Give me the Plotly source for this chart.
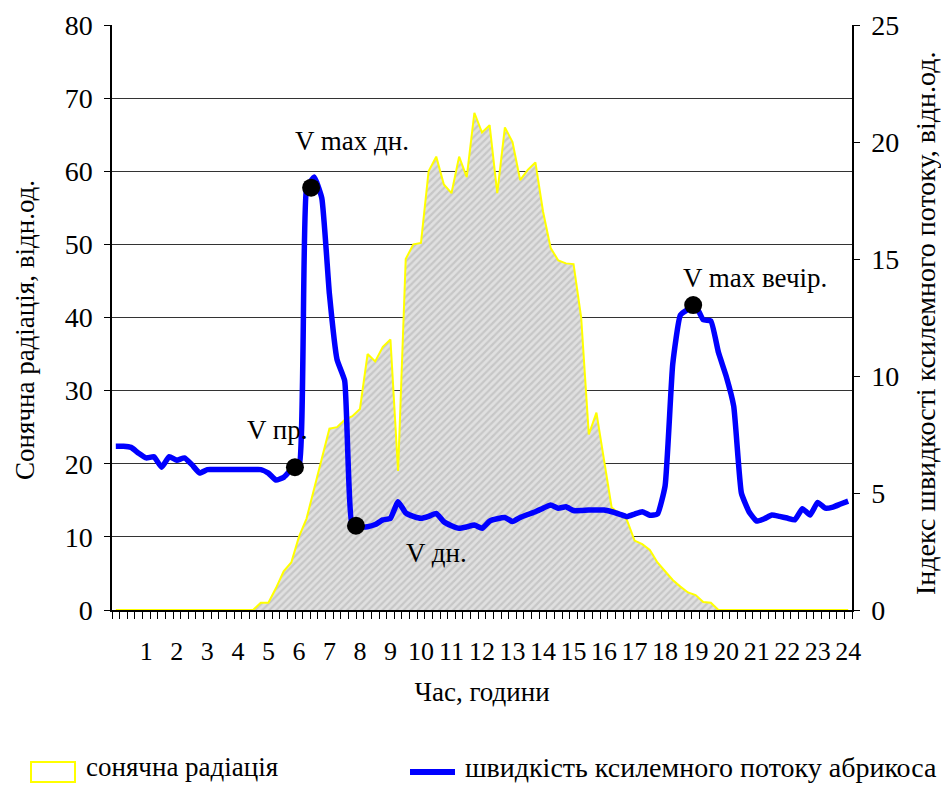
import plotly.graph_objects as go

# time axis: every 15 minutes, hours 0..24
hours = [i * 0.25 for i in range(97)]

# solar radiation (left axis, rel. units)
radiation = (
    [0] * 19 +                                   # 0:00 .. 4:30
    [1, 1, 3, 5.3, 6.5,                         # 4:45 .. 5:45
     10, 12.5, 16.5, 20.5,                      # 6:00 .. 6:45
     24.8, 25, 26, 26.5,                        # 7:00 .. 7:45
     27.5, 35, 34, 36,                          # 8:00 .. 8:45
     37, 19, 48, 50,                            # 9:00 .. 9:45
     50.2, 60, 62, 58.2,                        # 10:00 .. 10:45
     57, 62, 59.2, 68,                          # 11:00 .. 11:45
     65.3, 66.3, 57, 66,                        # 12:00 .. 12:45
     64, 58.8, 60.2, 61.2,                      # 13:00 .. 13:45
     54.5, 49.5, 47.8, 47.4,                    # 14:00 .. 14:45
     47.3, 40, 24, 27,                          # 15:00 .. 15:45
     20.6, 14, 13.2, 12.3,                      # 16:00 .. 16:45
     9.5, 9, 8.2, 6.5,                          # 17:00 .. 17:45
     5.3, 4.1, 3.2, 2.4,                        # 18:00 .. 18:45
     2.05, 1.1, 1.0, 0] +                       # 19:00 .. 19:45
    [0] * 17                                    # 20:00 .. 24:00
)

# xylem sap-flow index of apricot (right axis, rel. units)
sap_flow = [
    7.0, 7.0, 6.95, 6.7,        # 0
    6.5, 6.55, 6.1, 6.55,       # 1
    6.4, 6.5, 6.2, 5.85,        # 2
    6.0, 6.0, 6.0, 6.0,         # 3
    6.0, 6.0, 6.0, 6.0,         # 4
    5.85, 5.55, 5.67, 6.0,      # 5
    6.1, 18.0, 18.5, 17.6,      # 6
    13.5, 10.7, 9.8, 3.6,       # 7
    3.55, 3.56, 3.65, 3.85,     # 8
    3.92, 4.63, 4.15, 4.0,      # 9
    3.92, 4.0, 4.13, 3.77,      # 10
    3.6, 3.49, 3.55, 3.63,      # 11
    3.49, 3.8, 3.9, 3.95,       # 12
    3.78, 3.95, 4.08, 4.2,      # 13
    4.35, 4.49, 4.35, 4.41,     # 14
    4.25, 4.25, 4.27, 4.27,     # 15
    4.27, 4.2, 4.1, 3.99,       # 16
    4.1, 4.2, 4.05, 4.1,        # 17
    5.3, 10.5, 12.6, 12.85,     # 18
    13.0, 12.4, 12.35, 11.0,    # 19
    10.0, 8.7, 5.0, 4.2,        # 20
    3.8, 3.9, 4.06, 4.0,        # 21
    3.93, 3.85, 4.33, 4.06,     # 22
    4.6, 4.35, 4.4, 4.53,       # 23
    4.65,                       # 24
]

# characteristic points of the sap flow
point_hours = [5.87, 6.4, 7.87, 18.92]
point_values = [6.1, 18.05, 3.6, 13.03]
point_labels = ["V пр.", "V max дн.", "V дн.", "V max вечір."]
label_hours = [5.28, 7.74, 10.52, 20.95]
label_levels = [24.6, 64.1, 7.8, 45.4]   # on the left-axis scale

tick_hours = list(range(1, 25))
tick_text = [str(h) for h in tick_hours]
minor_ticks = [k * 0.25 - 0.125 for k in range(98)]

legend_names = ["сонячна радіація", "швидкість ксилемного потоку абрикоса"]
x_title = "Час, години"
y_title = "Сонячна радіація, відн.од."
y2_title = "Індекс швидкості ксилемного потоку, відн.од."

FONT = "Liberation Serif, Times New Roman, serif"
W, H = 941, 785
ML, MR, MT, MB = 112, 89, 25, 175
PW, PH = W - ML - MR, H - MT - MB


def px_x(p):
    return (p - ML) / PW


def px_y(p):
    return (H - MB - p) / PH


def text_font(size=27):
    return dict(size=size, color="black", family=FONT)


fig = go.Figure()

fig.add_trace(go.Scatter(
    x=hours, y=radiation, mode="lines", fill="tozeroy",
    line=dict(color="#ffff00", width=2),
    fillpattern=dict(shape="/", fgcolor="#adadad", bgcolor="#e0e0e0",
                     size=5, solidity=0.45),
    name=legend_names[0], showlegend=False, hoverinfo="skip"))

fig.add_trace(go.Scatter(
    x=hours, y=sap_flow, mode="lines", yaxis="y2",
    line=dict(color="#0000ff", width=5.5, shape="spline", smoothing=0.4),
    name=legend_names[1], showlegend=False))

fig.add_trace(go.Scatter(
    x=point_hours, y=point_values, mode="markers", yaxis="y2",
    marker=dict(color="black", size=18), showlegend=False))

for t, hx, ly in zip(point_labels, label_hours, label_levels):
    fig.add_annotation(x=hx, y=ly, xref="x", yref="y", text=t,
                       showarrow=False, font=text_font(27))

# vertical axis titles
fig.add_annotation(x=px_x(25), y=px_y(330), xref="paper", yref="paper",
                   text=y_title, textangle=-90, showarrow=False,
                   xanchor="center", yanchor="middle", font=text_font(27))
fig.add_annotation(x=px_x(925), y=px_y(324), xref="paper", yref="paper",
                   text=y2_title, textangle=-90, showarrow=False,
                   xanchor="center", yanchor="middle", font=text_font(28))

# legend (drawn below the plot)
fig.add_shape(type="rect", xref="paper", yref="paper",
              x0=px_x(31), x1=px_x(75), y0=px_y(782), y1=px_y(762),
              fillcolor="white", line=dict(color="#ffff00", width=2))
fig.add_annotation(x=px_x(84), y=px_y(767), xref="paper", yref="paper",
                   xanchor="left", yanchor="middle", text=legend_names[0],
                   showarrow=False, font=text_font(27))
fig.add_shape(type="line", xref="paper", yref="paper",
              x0=px_x(410), x1=px_x(455), y0=px_y(772), y1=px_y(772),
              line=dict(color="#0000ff", width=6))
fig.add_annotation(x=px_x(463), y=px_y(767), xref="paper", yref="paper",
                   xanchor="left", yanchor="middle", text=legend_names[1],
                   showarrow=False, font=text_font(28))

fig.update_layout(
    width=W, height=H,
    margin=dict(l=ML, r=MR, t=MT, b=MB),
    paper_bgcolor="white", plot_bgcolor="white",
    font=dict(family=FONT, size=27, color="black"),
    showlegend=False,
    xaxis=dict(
        range=[-0.125, 24.125], tickmode="array", tickvals=tick_hours,
        ticktext=tick_text, ticks="", ticklabelstandoff=17,
        tickfont=dict(size=26, family=FONT), showgrid=False, zeroline=False,
        showline=True, linecolor="black", linewidth=1.5, automargin=False,
        minor=dict(tickmode="array", tickvals=minor_ticks, ticks="outside",
                   ticklen=7, tickcolor="black", tickwidth=1, showgrid=False),
        title=dict(text=x_title, standoff=17, font=text_font(27)),
    ),
    yaxis=dict(
        range=[0, 80], dtick=10, ticks="outside", ticklen=6, tickcolor="black",
        showgrid=True, gridcolor="#333333", gridwidth=1, zeroline=False,
        showline=True, linecolor="black", linewidth=1.5, automargin=False,
        tickfont=dict(size=28, family=FONT), ticklabelstandoff=6,
    ),
    yaxis2=dict(
        range=[0, 25], dtick=5, overlaying="y", side="right",
        ticks="outside", ticklen=6, tickcolor="black", showgrid=False,
        zeroline=False, showline=True, linecolor="black", linewidth=1.5,
        automargin=False,
        tickfont=dict(size=28, family=FONT), ticklabelstandoff=6,
    ),
)

fig.write_html(
    "out.html",
    config={"displayModeBar": False},
    post_script="document.body.style.margin='0';document.body.style.overflow='hidden';",
)
